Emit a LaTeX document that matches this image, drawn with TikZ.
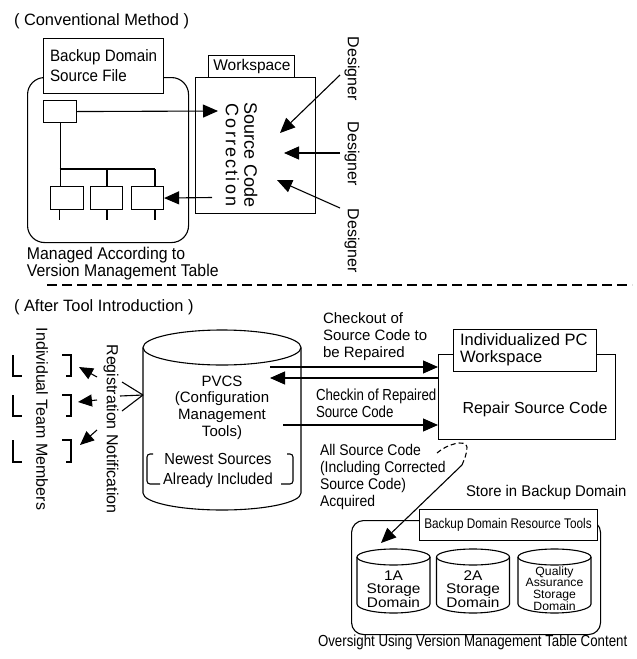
\documentclass[tikz,border=0pt]{standalone}
\usepackage{fontspec}
\setmainfont{Liberation Sans}
\usepackage{graphicx}
\usetikzlibrary{arrows.meta}

% text block: horizontal squeeze, column alignment, lines
\newcommand\tb[3]{\scalebox{#1}[1]{\begin{tabular}{@{}#2@{}}#3\end{tabular}}}
\newcommand\fs[2]{\fontsize{#1}{#2}\selectfont}

\begin{document}
\begin{tikzpicture}[x=1pt,y=-1pt,line width=1.1pt,
  box/.style={draw,fill=white,inner sep=0pt},
  frame/.style={draw,inner sep=0pt},
  arr/.style={-{Triangle[length=15pt,width=13pt]}},
  sarr/.style={-{Triangle[length=14pt,width=12pt]}},
  txt/.style={inner sep=0pt,outer sep=0pt}]
\useasboundingbox (0,0) rectangle (637,659);

% ---------------- conventional method ----------------
\node[txt,anchor=west,font=\fs{16.4}{18}] (h1) at (14,21) {( Conventional Method )};

\node[frame,rounded corners=17pt,anchor=north west,minimum width=161pt,minimum height=165pt] (vm) at (27,77) {};
\node[box,anchor=north west,minimum width=120pt,minimum height=55pt] (bdsf) at (43,38) {};
\node[txt,anchor=west,font=\fs{16.5}{20}] (bdsft) at (50,67) {\tb{0.92}{l}{Backup Domain\\Source File}};

\node[box,anchor=north west,minimum width=33pt,minimum height=22pt] (sb) at (43,100) {};
\node[box,anchor=north west,minimum width=33pt,minimum height=23pt] (b1) at (50,186) {};
\node[box,anchor=north west,minimum width=32pt,minimum height=23pt] (b2) at (90,186) {};
\node[box,anchor=north west,minimum width=32pt,minimum height=23pt] (b3) at (131,186) {};

% version tree
\coordinate (tj) at (59.5,169);
\draw (sb.south) -- (sb.south |- b1.north);
\draw (tj) -- (155,169);
\draw (107,169) -- (107,186);
\draw (155,169) -- (155,186);
\draw (59.5,209) -- (59.5,220);
\draw (107,209) -- (107,220);
\draw (155,209) -- (155,220);

% workspace
\node[box,anchor=north west,minimum width=120pt,minimum height=136pt] (wsbox) at (195,77) {};
\node[box,anchor=north west,minimum width=86pt,minimum height=22pt] (wstab) at (208,55) {};
\node[txt,font=\fs{15.5}{18}] (wst) at (252,66) {Workspace};
\node[txt,rotate=-90,font=\fs{18}{18}] (sc) at (239,155)
  {\tb{1}{c}{Source Code\\{\addfontfeature{LetterSpace=12}Correction}}};

\coordinate (scin) at (218,111);
\coordinate (scout) at (212,197.5);
\draw[arr] (sb.east) -- (scin);
\draw[arr] (scout) -- (b3.east);

% designers
\node[txt,rotate=-90,font=\fs{16}{16}] (d1) at (352,69) {Designer};
\node[txt,rotate=-90,font=\fs{16}{16}] (d2) at (352,154) {Designer};
\node[txt,rotate=-90,font=\fs{16}{16}] (d3) at (352,241) {Designer};
\coordinate (d1s) at (340,75);  \coordinate (d1e) at (280,133);
\coordinate (d2s) at (340,153); \coordinate (d2e) at (284,153);
\coordinate (d3s) at (340,208); \coordinate (d3e) at (277,180);
\draw[arr] (d1s) -- (d1e);
\draw[arr] (d2s) -- (d2e);
\draw[arr] (d3s) -- (d3e);

\node[txt,anchor=west,font=\fs{17}{17}] (mgd) at (27,264.5) {\tb{0.93}{l}{Managed According to\\Version Management Table}};

% separator
\coordinate (sep1) at (47,285);
\coordinate (sep2) at (632,285);
\draw[dash pattern=on 10pt off 5pt] (sep1) -- (sep2);

% ---------------- after tool introduction ----------------
\node[txt,anchor=west,font=\fs{16.4}{18}] (h2) at (14,307) {( After Tool Introduction )};

% PVCS cylinder
\draw[fill=white] (143,347.5) -- (143,493) arc[start angle=180,end angle=0,x radius=79,y radius=17] -- (301,347.5);
\draw (222,347.5) ellipse[x radius=79,y radius=17.5];
\node[txt,font=\fs{15}{16.7}] (pvcs) at (222,408) {\tb{1}{c}{PVCS\\(Configuration\\Management\\Tools)}};
\node[txt,font=\fs{16}{20}] (news) at (218,470.5) {\tb{0.92}{c}{Newest Sources\\Already Included}};
\draw[rounded corners=3pt] (153,454) -- (147,454) -- (147,484) -- (160,484);
\draw[rounded corners=3pt] (287,454) -- (293,454) -- (293,484) -- (281,484);

% personal workspace
\node[box,anchor=north west,minimum width=177pt,minimum height=85pt] (rs) at (438,354) {};
\node[box,anchor=north west,minimum width=143pt,minimum height=42pt] (pcw) at (453,329) {};
\node[txt,anchor=west,font=\fs{16.5}{17}] (pcwt) at (460,350.5) {\tb{1}{l}{Individualized PC\\Workspace}};
\node[txt,font=\fs{16}{18}] (rst) at (535,409) {Repair Source Code};

\coordinate (co) at (270,367);
\coordinate (ci) at (270,378);
\coordinate (ck) at (283,425);
\draw[arr] (co) -- (co -| rs.west);
\draw[arr] (ci -| rs.west) -- (ci);
\draw[arr] (ck) -- (ck -| rs.west);
\node[txt,anchor=west,font=\fs{15}{17}] (cot) at (323,337) {\tb{1}{l}{Checkout of\\Source Code to\\be Repaired}};
\node[txt,anchor=west,font=\fs{16}{17}] (cit) at (316,405.5) {\tb{0.83}{l}{Checkin of Repaired\\Source Code}};

% registration notification
\coordinate (pl) at (143,395);
\coordinate (f1) at (122,382);
\coordinate (f2) at (120,396);
\coordinate (f3) at (122,411);
\draw (pl) -- (f1);
\draw (pl) -- (f2);
\draw (pl) -- (f3);
\node[txt,rotate=-90,font=\fs{16}{16}] (reg) at (111,429) {Registration Notification};
\node[txt,rotate=-90,font=\fs{16}{16}] (itm) at (42,419) {Individual Team Members};

\coordinate (t1s) at (97,377); \coordinate (t1e) at (79,367);
\coordinate (t2s) at (97,400); \coordinate (t2e) at (78,402);
\coordinate (t3s) at (97,430); \coordinate (t3e) at (80,445);
\draw[sarr] (t1s) -- (t1e);
\draw[sarr] (t2s) -- (t2e);
\draw[sarr] (t3s) -- (t3e);

% team member brackets
\foreach \ya/\yb in {355/376, 395/416, 440/462} {
  \draw (13,\ya) -- (13,\yb) -- (22,\yb);
  \draw (62,\ya) -- (71,\ya) -- (71,\yb) -- (66,\yb);
}

% acquisition into backup domain
\node[txt,anchor=west,font=\fs{15.5}{17.3}] (ast) at (320,477.5) {\tb{0.9}{l}{All Source Code\\(Including Corrected\\Source Code)\\Acquired}};
\coordinate (lp1) at (437,453);
\coordinate (lp2) at (462,465);
\coordinate (c1in) at (381,543);
\draw[dash pattern=on 5pt off 3pt] (lp1) .. controls (447,444) and (466,439) .. (467,447) .. controls (467,454) and (464,460) .. (lp2);
\draw[arr] (lp2) -- (c1in);

\node[txt,anchor=west,font=\fs{15.5}{17}] (sto) at (466,493) {\tb{0.96}{l}{Store in Backup Domain}};

\node[frame,rounded corners=12pt,anchor=north west,minimum width=249pt,minimum height=114pt] (bdr) at (351,520) {};
\node[box,anchor=north west,minimum width=178pt,minimum height=31pt] (bdrt) at (419,509) {};
\node[txt,font=\fs{14}{16}] (bdrtt) at (508,525) {\tb{0.84}{c}{Backup Domain Resource Tools}};

% storage domains
\foreach \cx in {393.5,473,554.5} {
  \draw (\cx-36.5,557) -- (\cx-36.5,604) arc[start angle=180,end angle=0,x radius=36.5,y radius=9] -- (\cx+36.5,557);
  \draw (\cx,557) ellipse[x radius=36.5,y radius=8];
}
\node[txt,font=\fs{14}{13}] (s1) at (393.5,591) {\tb{1.1}{c}{1A\\Storage\\Domain}};
\node[txt,font=\fs{14}{13}] (s2) at (473,591) {\tb{1.1}{c}{2A\\Storage\\Domain}};
\node[txt,font=\fs{12}{10.7}] (s3) at (554.5,590) {\tb{1.02}{c}{Quality\\Assurance\\Storage\\Domain}};

\node[txt,anchor=west,font=\fs{16}{17}] (ovs) at (318,643) {\tb{0.83}{l}{Oversight Using Version Management Table Content}};
\end{tikzpicture}
\end{document}
